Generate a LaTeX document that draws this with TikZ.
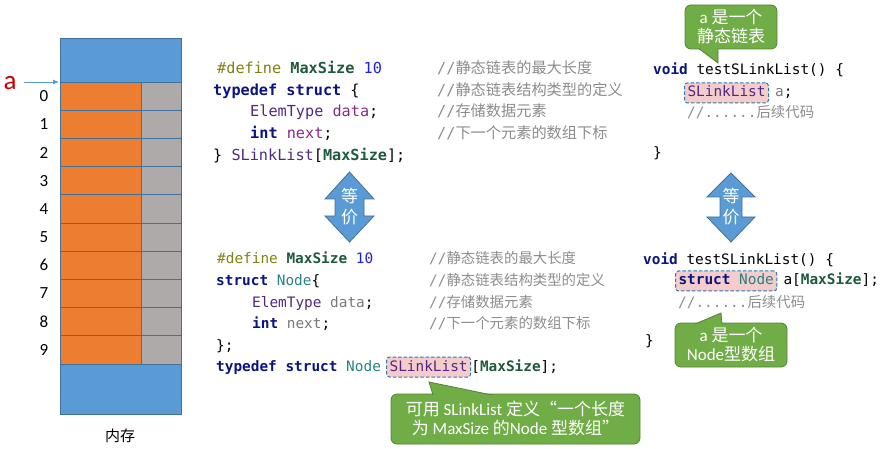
\documentclass[tikz,border=0pt]{standalone}
\usepackage{fontspec}
\setmainfont{Carlito}
\setmonofont{DejaVu Sans Mono}
\newfontfamily\cjk{Noto Sans CJK SC}
\usetikzlibrary{arrows.meta}
\definecolor{memblue}{RGB}{91,155,213}
\definecolor{memline}{RGB}{65,113,156}
\definecolor{memorange}{RGB}{237,125,49}
\definecolor{memgray}{RGB}{174,170,170}
\definecolor{alabel}{RGB}{200,0,0}
\definecolor{kw}{RGB}{10,20,128}
\definecolor{macro}{RGB}{128,128,20}
\definecolor{mname}{RGB}{30,90,60}
\definecolor{num}{RGB}{30,30,240}
\definecolor{typ}{RGB}{80,40,130}
\definecolor{var}{RGB}{140,40,140}
\definecolor{gvar}{RGB}{120,120,120}
\definecolor{nodec}{RGB}{40,130,130}
\definecolor{cmt}{RGB}{140,140,140}
\definecolor{hlfill}{RGB}{244,204,204}
\definecolor{hlline}{RGB}{46,117,182}
\definecolor{cofill}{RGB}{112,173,71}
\definecolor{coline}{RGB}{84,130,53}
\definecolor{arfill}{RGB}{91,155,213}
\definecolor{arline}{RGB}{65,113,156}
\newcommand\cmtext[1]{{\color{cmt}//{\cjk #1}}}
\begin{document}
\begin{tikzpicture}[x=1pt,y=-1pt,
  codeA/.style={anchor=base west,inner sep=0pt,font=\ttfamily\fontsize{15.2}{18}\selectfont},
  codeB/.style={anchor=base west,inner sep=0pt,font=\ttfamily\fontsize{14.4}{18}\selectfont},
  hl/.style={codeB,draw=hlline,fill=hlfill,dash pattern=on 3.5pt off 2pt,line width=1pt,rounded corners=3pt,
    inner xsep=3pt,inner ysep=2.5pt,text height=11.5pt,text depth=3.5pt},
  idx/.style={font=\fontsize{17}{17}\selectfont,inner sep=0pt},
  cell/.style={draw=memline,line width=0.8pt},
  callout/.style={fill=cofill,draw=coline,line width=0.8pt},
  cobox/.style={callout,rounded corners=6pt,text=white,align=center,inner sep=0pt,
    font=\fontsize{17}{19}\selectfont},
  dbl/.style={fill=arfill,draw=arline,line width=0.8pt},
  dbltext/.style={text=white,align=center,inner sep=0pt,font=\cjk\fontsize{17}{21}\selectfont}]
\useasboundingbox (0,0) rectangle (884,449);
% memory column
\filldraw[cell,fill=memblue] (60,38) rectangle (181,82);
\foreach \i in {0,...,9}{
  \filldraw[cell,fill=memorange] (60,{82+28.2*\i}) rectangle (141,{82+28.2*(\i+1)});
  \filldraw[cell,fill=memgray] (141,{82+28.2*\i}) rectangle (181,{82+28.2*(\i+1)});
  \node[idx] (i\i) at (44,{82+28.2*\i+14.1}) {\i};
}
\filldraw[cell,fill=memblue] (60,364) rectangle (181,414);
\node[font=\cjk\fontsize{15}{15}\selectfont] (mem) at (120,436) {内存};
\node[text=alabel,inner sep=0pt,font=\fontsize{27}{27}\selectfont] (alab) at (10,83) {a};
\coordinate (atail) at (24,82);
\coordinate (atip) at (59,82);
\draw[memblue,line width=0.8pt,-{Latex[length=6pt,width=5pt]}] (atail) -- (atip);
% top-left code
\node[codeA] (c1) at (217,74) {{\color{macro}\#define} {\bfseries\color{mname}MaxSize} {\color{num}10}};
\node[codeA] (c2) at (213,95.5) {{\bfseries\color{kw}typedef struct} \{};
\node[codeA] (c3) at (250,117) {{\color{typ}ElemType} {\color{var}data};};
\node[codeA] (c4) at (250,139) {{\bfseries\color{kw}int} {\color{var}next};};
\node[codeA] (c5) at (213,161) {\} {\color{typ}SLinkList}[{\bfseries\color{mname}MaxSize}];};
\node[codeA] (m1) at (437,74) {\cmtext{静态链表的最大长度}};
\node[codeA] (m2) at (437,95.5) {\cmtext{静态链表结构类型的定义}};
\node[codeA] (m3) at (437,117) {\cmtext{存储数据元素}};
\node[codeA] (m4) at (437,139) {\cmtext{下一个元素的数组下标}};
% bottom-left code
\node[codeB] (d1) at (217,264) {{\color{macro}\#define} {\bfseries\color{mname}MaxSize} {\color{num}10}};
\node[codeB] (d2) at (216,286) {{\bfseries\color{kw}struct} {\color{nodec}Node}\{};
\node[codeB] (d3) at (252,307) {{\color{typ}ElemType} {\color{gvar}data};};
\node[codeB] (d4) at (252,328) {{\bfseries\color{kw}int} {\color{gvar}next};};
\node[codeB] (d5) at (216,350) {\};};
\node[codeB] (d6) at (216,371) {{\bfseries\color{kw}typedef struct} {\color{nodec}Node}};
\node[hl,anchor=base west,xshift=5pt] (h3) at (d6.base east) {{\color{typ}SLinkList}};
\node[codeB] (d7) at (h3.base east) {[{\bfseries\color{mname}MaxSize}];};
\node[codeB] (n1) at (429,264) {\cmtext{静态链表的最大长度}};
\node[codeB] (n2) at (429,286) {\cmtext{静态链表结构类型的定义}};
\node[codeB] (n3) at (429,307) {\cmtext{存储数据元素}};
\node[codeB] (n4) at (429,328) {\cmtext{下一个元素的数组下标}};
% right top code
\node[codeB] (r1) at (653,75) {{\bfseries\color{kw}void} testSLinkList() \{};
\node[hl,anchor=base west] (h1) at (684,97) {{\color{typ}SLinkList}};
\node[codeB,xshift=6pt] (r2) at (h1.base east) {{\color{gvar}a};};
\node[codeB] (r3) at (687,118) {\cmtext{}{\color{cmt}......\cjk 后续代码}};
\node[codeB] (r4) at (653,158) {\}};
% right bottom code
\node[codeB] (s1) at (643,265) {{\bfseries\color{kw}void} testSLinkList() \{};
\node[hl,anchor=base west] (h2) at (675,285) {{\bfseries\color{kw}struct} {\color{nodec}Node}};
\node[codeB,xshift=6pt] (s2) at (h2.base east) {a[{\bfseries\color{mname}MaxSize}];};
\node[codeB] (s3) at (678,307) {\cmtext{}{\color{cmt}......\cjk 后续代码}};
\node[codeB] (s4) at (645,345) {\}};
% equivalence arrows
\filldraw[dbl] (349.5,172) -- (374,199) -- (364,199) -- (364,216) -- (374,216) -- (349.5,242)
  -- (325,216) -- (335,216) -- (335,199) -- (325,199) -- cycle;
\node[dbltext] (eq1) at (349.5,207) {等\\价};
\filldraw[dbl] (731,173) -- (755,197) -- (742,197) -- (742,217) -- (755,217) -- (731,242)
  -- (707,217) -- (720,217) -- (720,197) -- (707,197) -- cycle;
\node[dbltext] (eq2) at (731,207) {等\\价};
% callouts
\node[cobox,minimum width=92pt,minimum height=44pt] (co1) at (731,27) {a {\cjk 是一个}\\{\cjk 静态链表}};
\coordinate (t1) at (718,63);
\filldraw[callout] (698,48) -- (t1) -- (718,48);
\node[cobox,minimum width=112pt,minimum height=44pt] (co2) at (731,345) {a {\cjk 是一个}\\Node{\cjk 型数组}};
\coordinate (t2) at (721,313);
\filldraw[callout] (695,324) -- (t2) -- (722,324);
\node[cobox,minimum width=249pt,minimum height=50pt] (co3) at (515.5,419) {{\cjk 可用} SLinkList {\cjk 定义“一个长度}\\{\cjk 为} MaxSize {\cjk 的}Node {\cjk 型数组”}};
\coordinate (t3) at (429,382);
\filldraw[callout] (433,395) -- (t3) -- (492,395);
\end{tikzpicture}
\end{document}
